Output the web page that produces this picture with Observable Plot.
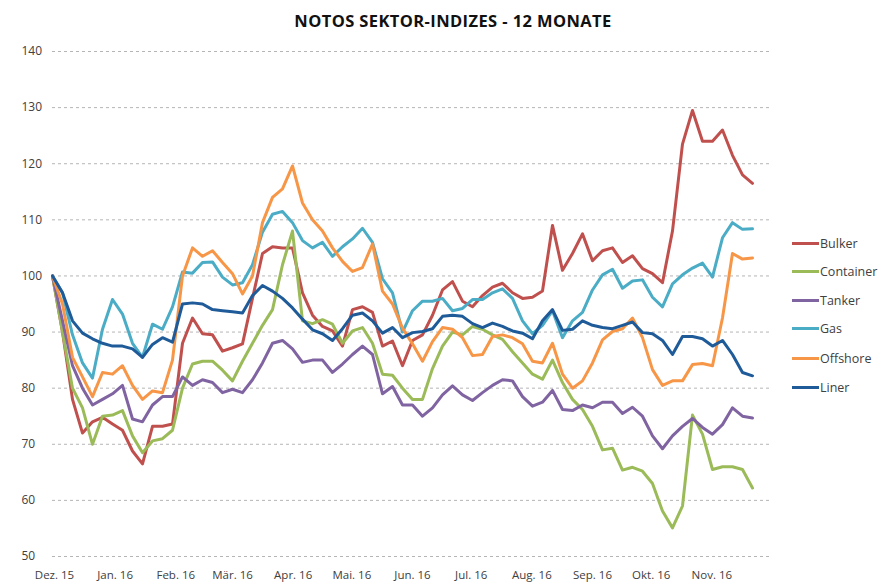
<!DOCTYPE html>
<html>
<head>
<meta charset="utf-8">
<script src="https://cdn.jsdelivr.net/npm/d3@7"></script>
<script src="https://cdn.jsdelivr.net/npm/@observablehq/plot@0.6"></script>
<style>
  html, body { margin: 0; padding: 0; background: #fff; }
  #wrap { position: relative; width: 883px; height: 584px; overflow: hidden; font-family: "Open Sans", sans-serif; }
  #title { position: absolute; top: 9px; left: 0; width: 906px; text-align: center; font-weight: 700; font-size: 16.5px; color: #111; letter-spacing: 0.4px; }
  #chart { position: absolute; top: 0; left: 0; }
  .lg { position: absolute; left: 792px; height: 16px; display: flex; align-items: center; font-size: 12.5px; color: #404040; }
  .lg i { display: inline-block; width: 27px; height: 3px; margin-right: 1px; }
</style>
</head>
<body>
<div id="wrap">
  <div id="chart"></div>
  <div id="title">NOTOS SEKTOR-INDIZES - 12 MONATE</div>
  <div id="legend"></div>
</div>
<script>
// ---- data ----
const seriesNames = ["Bulker", "Container", "Tanker", "Gas", "Offshore", "Liner"];
const seriesColors = ["#C0504D", "#9BBB59", "#8064A2", "#4BACC6", "#F79646", "#1F5B99"];
const monthTicks = ["2015-12-01","2016-01-01","2016-02-01","2016-03-01","2016-04-01","2016-05-01","2016-06-01","2016-07-01","2016-08-01","2016-09-01","2016-10-01","2016-11-01"];
const monthLabels = ["Dez. 15","Jan. 16","Feb. 16","Mär. 16","Apr. 16","Mai. 16","Jun. 16","Jul. 16","Aug. 16","Sep. 16","Okt. 16","Nov. 16"];
const yTicks = [50, 60, 70, 80, 90, 100, 110, 120, 130, 140];
// sample dates: roughly every 5 days from 30 Nov 2015 to 22 Nov 2016
const startDay = Date.UTC(2015, 10, 30);
const stepDays = 5.111;

const bulker = [100,90,78,72,74,74.8,73.6,72.5,68.8,66.5,73.2,73.2,73.6,88,92.5,89.7,89.5,86.6,87.2,87.9,96,104,105.2,105,105,97,93,91,90.2,87.5,94,94.5,93.5,87.5,88.4,84,88.5,89.5,93,97.5,99,95.5,94.5,96.5,98,98.7,97,96,96.2,97.3,109,101,104,107.5,102.7,104.5,105,102.4,103.6,101.3,100.4,98.8,108,123.5,129.5,124,124,126,121.5,118,116.5];
const container = [100,90,80,76.5,70,75,75.2,76,71.5,68.5,70.6,71,72.5,80,84.3,84.8,84.8,83.2,81.3,84.8,88,91.2,94,102,108,92,91.5,92.2,91.4,88,90.2,90.8,88,82.5,82.3,80,78,78,83.5,87.5,90,89.5,91,90.5,89.5,88.7,86.5,84.5,82.5,81.6,85,81,78,76.2,73.2,69,69.3,65.4,65.9,65.2,63,58.1,55.1,59,75.2,71.8,65.5,66,66,65.5,62.2];
const tanker = [100,92,84,80,77,78,79,80.5,74.5,74,77,78.5,78.5,82,80.5,81.5,81,79.2,79.8,79.2,81.5,84.5,88,88.5,87,84.6,85,85,82.8,84.3,86,87.5,86,79,80.3,77,77,75,76.5,78.8,80.4,78.8,77.8,79.2,80.5,81.5,81.3,78.5,76.8,77.5,79.6,76.2,76,77,76.5,77.5,77.5,75.5,76.6,75,71.5,69.2,71.5,73.2,74.6,73,71.8,73.5,76.5,75,74.7];
const gas = [100,97,89.5,84.5,81.8,90.5,95.8,93.2,88,85.5,91.4,90.5,94.5,100.7,100.5,102.4,102.5,99.8,98.4,98.8,102,107.8,111,111.5,109.5,106.3,105,106,103.5,105.2,106.6,108.5,106,99.5,97,90,93.8,95.5,95.5,96,93.8,94.2,95.8,95.8,97,97.7,96,92,89.7,91.2,93.8,89,92,93.5,97.5,100.2,101.2,97.8,99.1,99.3,96.2,94.5,98.6,100.2,101.4,102.3,99.8,106.8,109.5,108.3,108.4];
const offshore = [100,95,85.5,82,78.5,82.8,82.5,84,80.5,78,79.5,79.2,85,100,105,103.5,104.5,102.4,100.4,96.8,100,109.5,114,115.5,119.6,113,110,108,105,102.6,100.8,101.5,105.7,97.3,95,90.7,87.9,84.8,88.3,90.8,90.5,89,85.8,86,89.2,89.5,89,87.9,84.8,84.5,88,82.5,80,81.3,84.5,88.6,90.1,90.6,92.5,89,83.3,80.5,81.3,81.3,84.2,84.4,84,92.5,104,103,103.2];
const liner = [100,97,92,89.8,88.8,88,87.5,87.5,87,85.5,87.8,89,88.2,95,95.2,95,94,93.8,93.6,93.4,96.5,98.3,97.3,96,94.3,92.3,90.4,89.7,88.5,90.6,93,93.4,92,89.8,90.8,89,89.9,90.1,90.6,92.8,93,92.8,91.5,90.8,91.6,91,90.2,89.8,88.8,92,94,90.3,90.5,92,91.2,90.8,90.6,91.2,91.8,89.9,89.7,88.5,86,89.2,89.2,88.8,87.5,88.5,86,82.8,82.2];

const allValues = [bulker, container, tanker, gas, offshore, liner];
const dates = bulker.map((_, i) => new Date(startDay + i * stepDays * 864e5));
const rows = [];
seriesNames.forEach((name, k) => allValues[k].forEach((v, i) => rows.push({series: name, date: dates[i], value: v})));
const tickDates = monthTicks.map(d => new Date(d + "T00:00:00Z"));
const labelOf = new Map(tickDates.map((d, i) => [+d, monthLabels[i]]));

const chart = Plot.plot({
  width: 883,
  height: 584,
  marginLeft: 52,
  marginRight: 111,
  marginTop: 51,
  marginBottom: 28,
  style: {fontFamily: "Open Sans, sans-serif", color: "#404040", background: "transparent"},
  x: {type: "utc", domain: [new Date(Date.UTC(2015, 10, 30)), new Date(Date.UTC(2016, 11, 2))]},
  y: {domain: [50, 140]},
  color: {domain: seriesNames, range: seriesColors},
  marks: [
    Plot.ruleY(yTicks, {stroke: "#b5b5b5", strokeDasharray: "3,3", strokeWidth: 1}),
    Plot.axisY({ticks: yTicks, tickSize: 0, tickPadding: 0, textAnchor: "start", dx: -31, fontSize: 12, label: null}),
    Plot.axisX({ticks: tickDates, tickSize: 0, tickPadding: 14, fontSize: 11.5, tickFormat: d => labelOf.get(+d), label: null}),
    Plot.line(rows, {x: "date", y: "value", z: "series", stroke: "series", strokeWidth: 3, strokeLinejoin: "round", strokeLinecap: "round"})
  ]
});
document.getElementById("chart").appendChild(chart);

// legend
const legendTops = [243, 271, 300, 328, 358, 387];
const lg = document.getElementById("legend");
seriesNames.forEach((name, k) => {
  const d = document.createElement("div");
  d.className = "lg";
  d.style.top = (legendTops[k] - 8) + "px";
  d.innerHTML = `<i style="background:${seriesColors[k]}"></i><span>${name}</span>`;
  lg.appendChild(d);
});
</script>
</body>
</html>
